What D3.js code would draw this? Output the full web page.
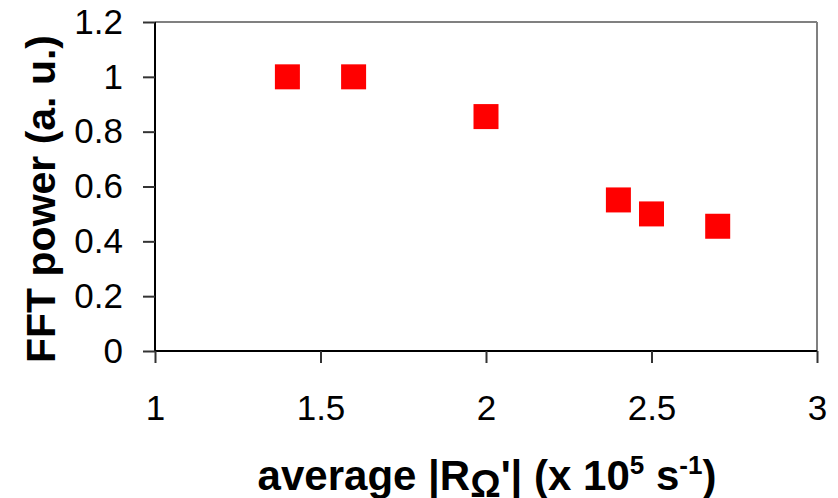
<!DOCTYPE html>
<html><head><meta charset="utf-8">
<script src="https://cdn.jsdelivr.net/npm/d3@7"></script>
<style>html,body{margin:0;padding:0;background:#fff;}svg{display:block;}</style>
</head><body>
<script>
const xValues = [1.4, 1.6, 2.0, 2.4, 2.5, 2.7];
const yValues = [1.0, 1.0, 0.855, 0.551, 0.50, 0.455];
const xTicks = [1, 1.5, 2, 2.5, 3];
const yTicks = [0, 0.2, 0.4, 0.6, 0.8, 1, 1.2];

const W = 838, H = 498;
const svg = d3.select("body").append("svg").attr("width", W).attr("height", H);
const x = d3.scaleLinear().domain([1, 3]).range([155, 817]);
const y = d3.scaleLinear().domain([0, 1.2]).range([351, 22]);
const font = "'Liberation Sans', Arial, sans-serif";

// plot border (top & right, gray)
svg.append("line").attr("x1", x(1)).attr("x2", x(3)).attr("y1", y(1.2)).attr("y2", y(1.2))
  .attr("stroke", "#808080").attr("stroke-width", 2);
svg.append("line").attr("x1", x(3)).attr("x2", x(3)).attr("y1", y(1.2)).attr("y2", y(0))
  .attr("stroke", "#808080").attr("stroke-width", 2);

// y axis
const yAxis = svg.append("g").attr("transform", `translate(${x(1)},0)`)
  .call(d3.axisLeft(y).tickValues(yTicks).tickSize(12).tickPadding(20)
    .tickFormat(d => d3.format("")(+d.toFixed(1))));
yAxis.select(".domain").attr("stroke", "#000").attr("stroke-width", 2).attr("d", `M0,${y(1.2)}V${y(0)}`);
yAxis.selectAll(".tick line").attr("stroke", "#333").attr("stroke-width", 2);
yAxis.selectAll(".tick text").attr("font-family", font).attr("font-size", 35).attr("fill", "#000");

// x axis
const xAxis = svg.append("g").attr("transform", `translate(0,${y(0)})`)
  .call(d3.axisBottom(x).tickValues(xTicks).tickSize(12).tickPadding(32)
    .tickFormat(d => String(d)));
xAxis.select(".domain").attr("stroke", "#000").attr("stroke-width", 2).attr("d", `M${x(1)},0H${x(3)}`);
xAxis.selectAll(".tick line").attr("stroke", "#333").attr("stroke-width", 2);
xAxis.selectAll(".tick text").attr("font-family", font).attr("font-size", 35).attr("fill", "#000");

// markers
const s = 25;
svg.append("g").selectAll("rect").data(xValues.map((v, i) => [v, yValues[i]])).join("rect")
  .attr("x", d => x(d[0]) - s / 2).attr("y", d => y(d[1]) - s / 2)
  .attr("width", s).attr("height", s).attr("fill", "#ff0000");

// y title
svg.append("text").attr("transform", "translate(55,199) rotate(-90)")
  .attr("text-anchor", "middle").attr("font-family", font).attr("font-weight", "bold")
  .attr("font-size", 41).attr("fill", "#000").text("FFT power (a. u.)");

// x title
const xt = svg.append("text").attr("x", 487).attr("y", 490).attr("text-anchor", "middle")
  .attr("font-family", font).attr("font-weight", "bold").attr("font-size", 42).attr("fill", "#000");
xt.append("tspan").text("average |R");
xt.append("tspan").attr("dy", 7).attr("font-size", 38).text("Ω");
xt.append("tspan").attr("dy", -7).text("'| (x 10");
xt.append("tspan").attr("dy", -16).attr("font-size", 26).text("5");
xt.append("tspan").attr("dy", 16).text(" s");
xt.append("tspan").attr("dy", -16).attr("font-size", 26).text("-1");
xt.append("tspan").attr("dy", 16).text(")");
</script>
</body></html>
